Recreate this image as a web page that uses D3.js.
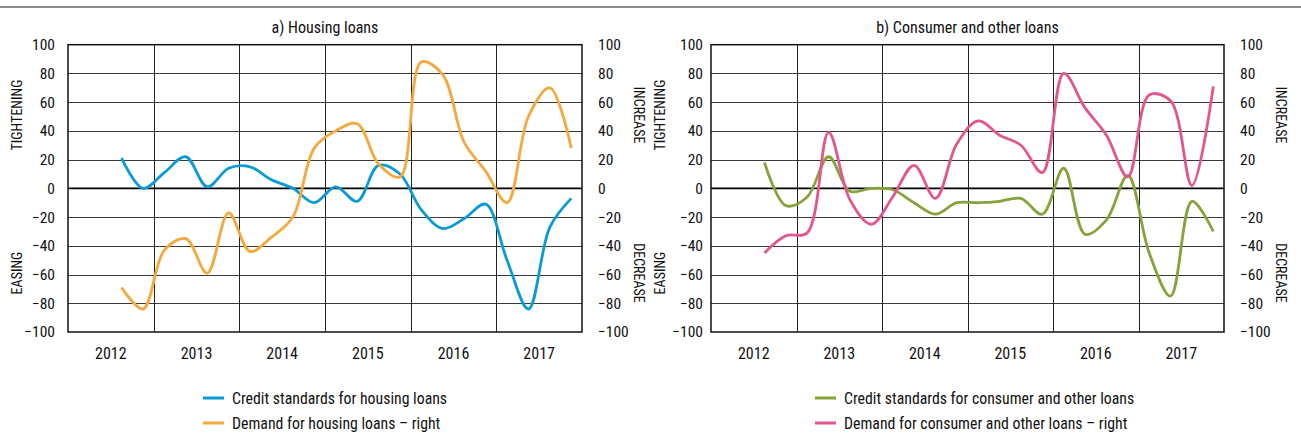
<!DOCTYPE html>
<html>
<head>
<meta charset="utf-8">
<script src="https://cdn.jsdelivr.net/npm/d3@7"></script>
<style>
  html, body { margin: 0; padding: 0; background: #fff; }
  svg { display: block; }
  text { font-family: "Liberation Sans Narrow", "Arial Narrow", "Roboto Condensed", "Liberation Sans", sans-serif; fill: #111; }
</style>
</head>
<body>
<svg id="chart" width="1301" height="437"></svg>
<script>
// Quarterly survey balances, 2012 Q3 – 2017 Q4
const quarters = ["2012Q3","2012Q4",
  "2013Q1","2013Q2","2013Q3","2013Q4",
  "2014Q1","2014Q2","2014Q3","2014Q4",
  "2015Q1","2015Q2","2015Q3","2015Q4",
  "2016Q1","2016Q2","2016Q3","2016Q4",
  "2017Q1","2017Q2","2017Q3","2017Q4"];

const years = ["2012","2013","2014","2015","2016","2017"];
const yTicks = [-100,-80,-60,-40,-20,0,20,40,60,80,100];

// a) Housing loans
const housingStandards = [21, 0, 11, 22, 1, 14, 15, 6, 0, -10, 1, -9, 16, 10, -15, -28, -21, -11, -50, -84, -27, -7];
const housingDemand    = [-69, -84, -43, -35, -59, -17, -44, -34, -20, 28, 40, 45, 17, 8, 88, 79, 32, 12, -10, 50, 70, 28];

// b) Consumer and other loans
const consumerStandards = [18, -12, -6, 22, -2, 0, -1, -10, -18, -10, -10, -9, -7, -18, 14, -32, -22, 9, -45, -75, -9, -30];
const consumerDemand    = [-45, -33, -31, 39, -8, -25, -6, 16, -7, 31, 47, 37, 30, 11, 80, 56, 37, 8, 65, 61, 2, 71];

const panels = [
  {
    title: "a) Housing loans",
    left: 68, right: 582, leftLabelGap: 13,
    series: [
      { name: "Credit standards for housing loans", values: housingStandards, color: "#0a9bd6" },
      { name: "Demand for housing loans \u2013 right", values: housingDemand, color: "#f5a83c" }
    ],
    legendX: 203
  },
  {
    title: "b) Consumer and other loans",
    left: 711, right: 1224, leftLabelGap: 8,
    series: [
      { name: "Credit standards for consumer and other loans", values: consumerStandards, color: "#86a33a" },
      { name: "Demand for consumer and other loans \u2013 right", values: consumerDemand, color: "#e3558f" }
    ],
    legendX: 815
  }
];

const svg = d3.select("#chart");
const plotTop = 44.7, plotBottom = 332;

// thin rule across the top of the figure
svg.append("line")
  .attr("x1", 0).attr("x2", 1301).attr("y1", 7).attr("y2", 7)
  .attr("stroke", "#8c8c8c").attr("stroke-width", 2);

const firstQuarterIndex = 2; // 2012 Q3 counted from 2012 Q1

panels.forEach(p => {
  const g = svg.append("g");
  const x = d3.scaleLinear().domain([0, years.length * 4]).range([p.left, p.right]);
  const y = d3.scaleLinear().domain([-100, 100]).range([plotBottom, plotTop]);
  const yRight = d3.scaleLinear().domain([-100, 100]).range([plotBottom, plotTop]);

  // horizontal grid
  g.selectAll("line.hgrid").data(yTicks.filter(t => t !== 0 && Math.abs(t) !== 100)).join("line")
    .attr("class", "hgrid")
    .attr("x1", p.left).attr("x2", p.right)
    .attr("y1", d => Math.round(y(d)) + 0.5).attr("y2", d => Math.round(y(d)) + 0.5)
    .attr("stroke", "#3a3a3a").attr("stroke-width", 1);

  // vertical year separators
  g.selectAll("line.vgrid").data(d3.range(1, years.length)).join("line")
    .attr("class", "vgrid")
    .attr("x1", d => Math.round(x(d * 4)) + 0.5).attr("x2", d => Math.round(x(d * 4)) + 0.5)
    .attr("y1", plotTop).attr("y2", plotBottom)
    .attr("stroke", "#222").attr("stroke-width", 1);

  // zero line
  g.append("line")
    .attr("x1", p.left).attr("x2", p.right)
    .attr("y1", y(0)).attr("y2", y(0))
    .attr("stroke", "#000").attr("stroke-width", 1.6);

  // series
  const line = d3.line()
    .x((d, i) => x(firstQuarterIndex + i + 0.5))
    .curve(d3.curveCatmullRom.alpha(0.5));
  p.series.forEach((s, k) => {
    const sc = k === 0 ? y : yRight;
    g.append("path")
      .datum(s.values)
      .attr("d", line.y(d => sc(d)))
      .attr("fill", "none")
      .attr("stroke", s.color)
      .attr("stroke-width", 2.8)
      .attr("stroke-linejoin", "round")
      .attr("stroke-linecap", "butt");
  });

  // plot frame
  g.append("rect")
    .attr("x", p.left).attr("y", plotTop)
    .attr("width", p.right - p.left).attr("height", plotBottom - plotTop)
    .attr("fill", "none").attr("stroke", "#111").attr("stroke-width", 1.5);

  // left axis
  const leftAxis = g.append("g")
    .attr("transform", `translate(${p.left - p.leftLabelGap},0)`)
    .call(d3.axisLeft(y).tickValues(yTicks).tickSize(0).tickPadding(0));
  leftAxis.select(".domain").remove();
  leftAxis.selectAll("text").attr("font-size", 15.5).style("font-family", null).attr("fill", "#111");

  // right axis
  const rightAxis = g.append("g")
    .attr("transform", `translate(${p.right + 16},0)`)
    .call(d3.axisRight(yRight).tickValues(yTicks).tickSize(0).tickPadding(0));
  rightAxis.select(".domain").remove();
  rightAxis.selectAll("text").attr("font-size", 15.5).style("font-family", null).attr("fill", "#111");

  // year labels
  g.selectAll("text.year").data(years).join("text")
    .attr("class", "year")
    .attr("x", (d, i) => x(i * 4 + 2))
    .attr("y", 359)
    .attr("text-anchor", "middle")
    .attr("font-size", 16)
    .text(d => d);

  // title
  g.append("text")
    .attr("x", (p.left + p.right) / 2).attr("y", 33)
    .attr("text-anchor", "middle").attr("font-size", 16)
    .text(p.title);

  // side captions
  const sideLabel = (txt, cx, cy, rot) => g.append("text")
    .attr("transform", `translate(${cx},${cy}) rotate(${rot})`)
    .attr("text-anchor", "middle").attr("dominant-baseline", "central")
    .attr("font-size", 14).text(txt);
  sideLabel("TIGHTENING", p.left - 51, 115, -90);
  sideLabel("EASING", p.left - 51, 273, -90);
  sideLabel("INCREASE", p.right + 57, 115, 90);
  sideLabel("DECREASE", p.right + 57, 273, 90);

  // legend
  p.series.forEach((s, k) => {
    const ly = 398 + k * 25;
    g.append("line")
      .attr("x1", p.legendX).attr("x2", p.legendX + 21)
      .attr("y1", ly).attr("y2", ly)
      .attr("stroke", s.color).attr("stroke-width", 3);
    g.append("text")
      .attr("x", p.legendX + 29).attr("y", ly + 5.5)
      .attr("font-size", 15.8)
      .text(s.name);
  });
});
</script>
</body>
</html>
